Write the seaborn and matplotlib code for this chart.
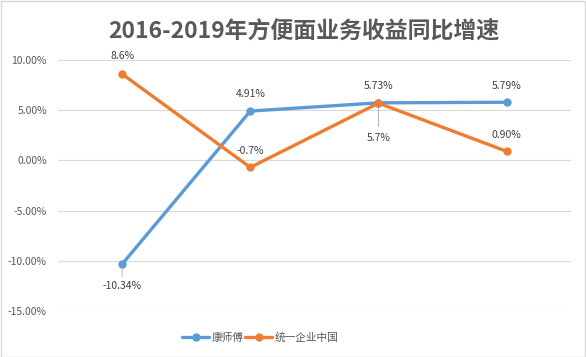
import pandas as pd
import seaborn as sns
import matplotlib.pyplot as plt
from matplotlib.ticker import FuncFormatter

years = ["2016", "2017", "2018", "2019"]
ksf = [-10.34, 4.91, 5.73, 5.79]
uni = [8.6, -0.7, 5.7, 0.90]
ksf_labels = ["-10.34%", "4.91%", "5.73%", "5.79%"]
uni_labels = ["8.6%", "-0.7%", "5.7%", "0.90%"]
names = ["康师傅", "统一企业中国"]

df = pd.DataFrame({
    "year": years * 2,
    "value": ksf + uni,
    "company": [names[0]] * 4 + [names[1]] * 4,
})

sns.set_style("white")
plt.rcParams['font.family'] = ['Noto Sans CJK SC', 'DejaVu Sans']

fig = plt.figure(figsize=(5.86, 3.57), dpi=100)
ax = fig.add_axes([0.099, 0.129, 0.875, 0.703])
colors = {names[0]: "#5B9BD5", names[1]: "#ED7D31"}

sns.lineplot(data=df, x="year", y="value", hue="company", palette=colors,
             marker="o", markersize=6, markeredgewidth=0, linewidth=2.4,
             ax=ax, legend=True)

ax.set_ylim(-15, 10)
ax.set_xlim(-0.5, 3.5)
ax.set_yticks([-15, -10, -5, 0, 5, 10])
ax.yaxis.set_major_formatter(FuncFormatter(lambda v, p: f"{v:.2f}%"))
ax.grid(axis="y", color="#D9D9D9", linewidth=0.8)
ax.set_axisbelow(True)
ax.tick_params(axis="y", length=0, labelsize=7.5, labelcolor="#595959", pad=8)
ax.set_xticks([])
ax.set_xlabel("")
ax.set_ylabel("")
sns.despine(ax=ax, left=True, bottom=True)

# data labels (offsets in points)
ksf_off = [(0, -16), (0, 12), (0, 12), (0, 12)]
uni_off = [(0, 13), (0, 12), (0, -25), (0, 12)]
for i in range(4):
    for vals, labs, offs in [(ksf, ksf_labels, ksf_off), (uni, uni_labels, uni_off)]:
        dx, dy = offs[i]
        ax.annotate(labs[i], (i, vals[i]), xytext=(dx, dy), textcoords="offset points",
                    ha="center", va="center", fontsize=7.5, color="#404040",
                    annotation_clip=False)
# leader lines
ax.annotate("", (0, ksf[0]), xytext=(0, -11), textcoords="offset points",
            arrowprops=dict(arrowstyle="-", color="#A6A6A6", lw=0.6))
ax.annotate("", (2, uni[2]), xytext=(0, -19), textcoords="offset points",
            arrowprops=dict(arrowstyle="-", color="#A6A6A6", lw=0.6))

fig.text(0.519, 0.91, "2016-2019年方便面业务收益同比增速", ha="center", va="center",
         fontsize=16.5, fontweight="bold", color="#595959")

handles, labels = ax.get_legend_handles_labels()
ax.legend(handles, labels, loc="center", bbox_to_anchor=(0.444, 0.055),
          bbox_transform=fig.transFigure, ncol=2, frameon=False,
          fontsize=7.7, labelcolor="#595959", handlelength=2.5,
          handletextpad=0.2, columnspacing=0.2)

fig.patches.append(plt.Rectangle((0.001, 0.001), 0.997, 0.997, transform=fig.transFigure,
                                 fill=False, edgecolor="#D9D9D9", linewidth=1))
fig.savefig("out.png", dpi=100)
